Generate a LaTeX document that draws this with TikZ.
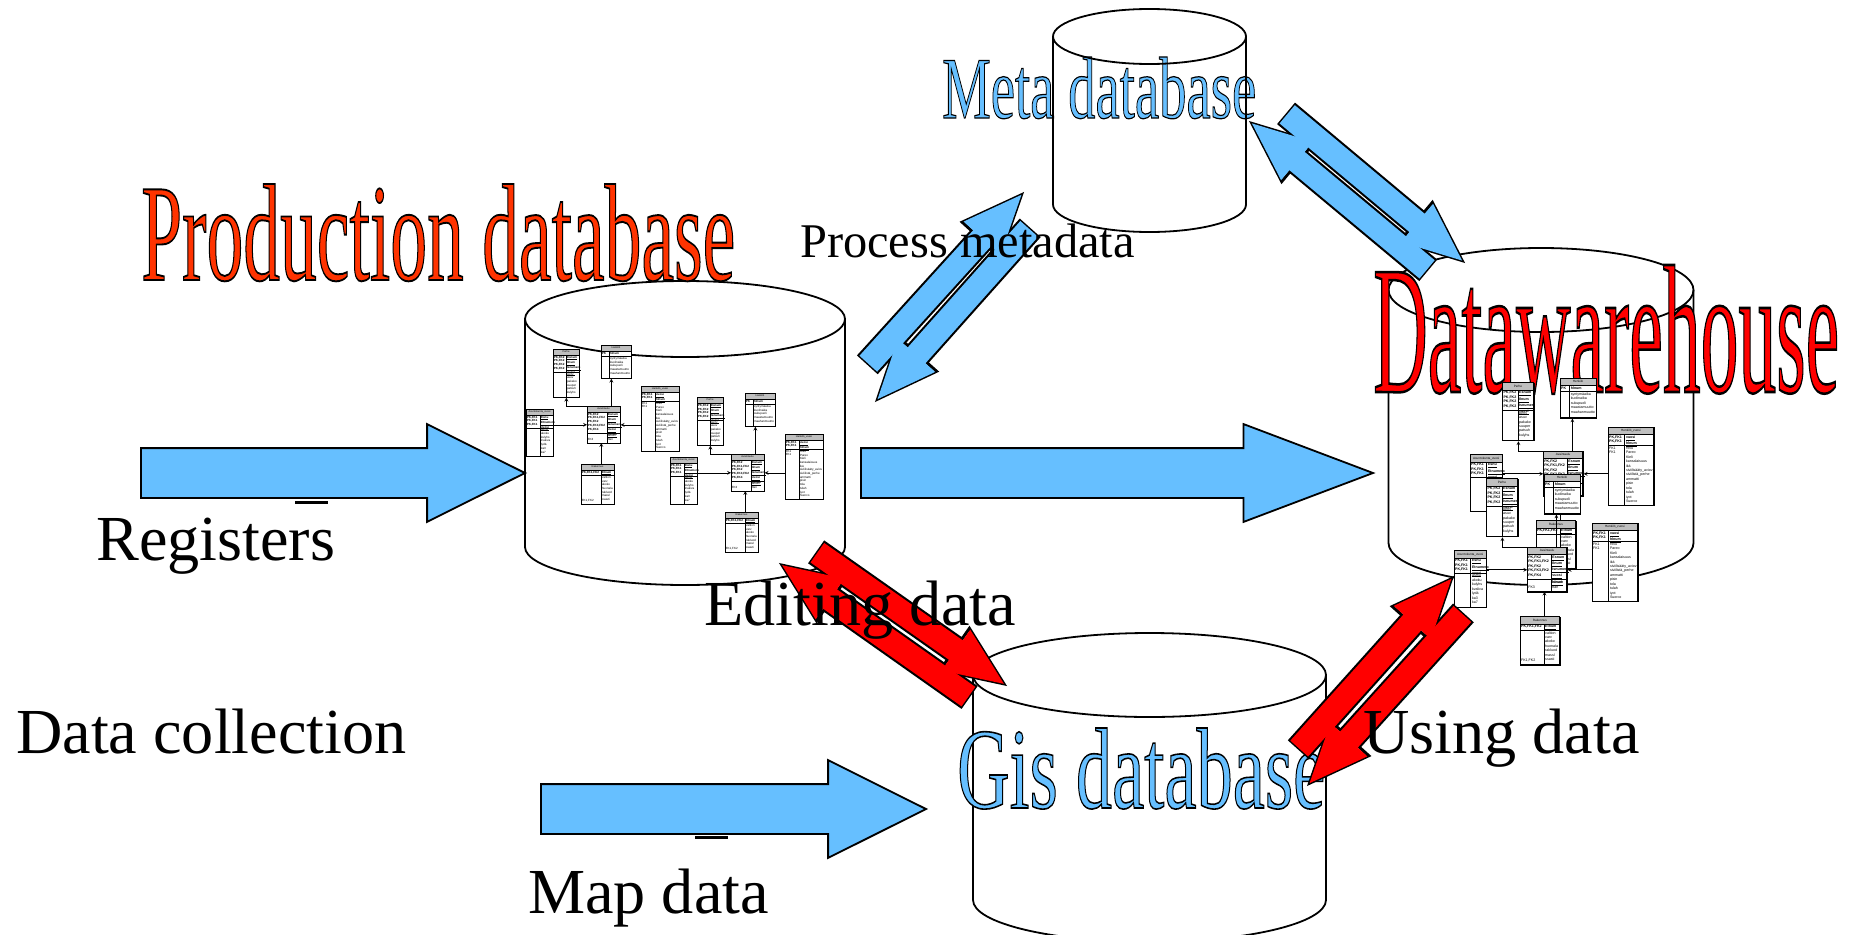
\documentclass[tikz,border=0pt]{standalone}
\usepackage{fontspec}
\setmainfont{Liberation Serif}
\newfontfamily\tablefont{Liberation Sans}
\usetikzlibrary{shapes.arrows,calc}

\definecolor{skyblue}{HTML}{66BFFF}
\definecolor{orangered}{HTML}{FF3300}

\tikzset{
    dbline/.style={line width=1.8pt},
    bigarrow/.style={single arrow, inner xsep=0pt, inner ysep=24pt, outer sep=0pt, anchor=tip, line width=1.8pt,
        single arrow head extend=24pt},
    pairarrow/.style={bigarrow, minimum height=228pt, inner ysep=11pt,
        single arrow tip angle=46, single arrow head extend=13pt},
    label/.style={inner sep=0pt, anchor=base west, font=\fontsize{64.2}{64.2}\selectfont},
    erbox/.style={draw, fill=white, rectangle, inner sep=0pt, anchor=north west, line width=0.7pt},
    erline/.style={line width=0.7pt},
    ertext/.style={inner sep=0pt, anchor=north west, align=left, font=\tablefont\fontsize{3}{3.7}\selectfont},
    erkey/.style={ertext, font=\tablefont\bfseries\fontsize{3}{3.7}\selectfont},
    ertitle/.style={inner sep=0pt, anchor=center, font=\tablefont\fontsize{2.6}{3}\selectfont}
}

% name, x middle, y of top ellipse, y of bottom ellipse, x radius, y radius
\newcommand{\dbdrum}[6]{
    \coordinate (#1) at (#2,#3);
    \draw[dbline] (#1) ellipse[x radius=#5, y radius=#6];
    \draw[dbline] (#2-#5,#3) -- (#2-#5,#4) arc[start angle=180, end angle=0, x radius=#5, y radius=#6] -- (#2+#5,#3);
}

% name, x, y, width, height, colour, text
\newcommand{\wordart}[7]{
    \node[inner sep=0pt, anchor=base west] (#1) at (#2,#3)
        {\resizebox{#4pt}{#5pt}{\fontsize{80}{80}\selectfont\color{#6}\special{pdf:code q 0 0 0 RG 2 Tr 1.1 w}#7\special{pdf:code Q}}};
}

% name, x, y, width, height, key row bottom, divider, title
\newcommand{\ertable}[8]{
    \node[erbox, minimum width=#4pt, minimum height=#5pt] (#1) at (#2,#3) {};
    \fill[black!25] (#2,#3) rectangle (#2+#4,#3+6);
    \draw[erline] (#2,#3) rectangle (#2+#4,#3+#5);
    \draw[erline] (#2,#3+6) -- (#2+#4,#3+6);
    \draw[erline] (#2,#3+#6) -- (#2+#4,#3+#6);
    \draw[erline] (#2+#7,#3+6) -- (#2+#7,#3+#5);
    \node[ertitle] (#1-title) at (#2+#4/2,#3+3) {#8};
}

% name, x, y, divider, key row bottom, keys, key names, other columns
\newcommand{\errows}[8]{
    \node[erkey] (#1-keys) at (#2+0.7,#3+7) {#6};
    \node[erkey] (#1-names) at (#2+#4+0.8,#3+7) {#7};
    \node[ertext] (#1-rows) at (#2+#4+0.8,#3+#5+1) {#8};
}

% prefix, x, y, scale
\newcommand{\schema}[4]{
    \begin{scope}[shift={(#2,#3)}, scale=#4, transform shape, name prefix=#1-]
        \ertable{perhe}{27}{4}{26}{48}{23}{13}{Perhe}
        \errows{perhe}{27}{4}{13}{23}{PK,FK2\\PK,FK2\\PK,FK2\\PK,FK2}{\underline{Esnum}\\\underline{Ilnum}\\\underline{Isnumero}\\\underline{vuosi}}{perty\\asuv\\pakako\\suuper\\patsuh\\kulyhs}
        \ertable{henkilo}{75}{0}{30}{33}{11}{8}{Henkilö}
        \errows{henkilo}{75}{0}{8}{11}{PK}{\underline{hlnum}}{syntymäaika\\kuolinaika\\sukupuoli\\maastamuutto\\maahanmuutto}
        \ertable{henkilovuosi}{115}{41}{38}{65}{15}{14}{Henkilö\_vuosi}
        \errows{henkilovuosi}{115}{41}{14}{15}{PK,FK1\\PK,FK1}{\underline{vuosi}\\\underline{hlnum}}{Rivu\\Pareo\\Kieli\\kansalaisuus\\ikä\\siviilisääty\_aviov\\siviilistä\_perhe\\ammatti\\pisin\\tola\\tulah\\iyot\\Suorco}
        \node[ertext] (henkilovuosi-fk) at (115.7,57) {FK1\\FK1};
        \ertable{asuntokunta}{0}{64}{27}{47}{19}{14}{Asuntokunta\_vuosi}
        \errows{asuntokunta}{0}{64}{14}{19}{PK,FK1\\PK,FK1\\PK,FK1}{\underline{Esnu}\\\underline{Etnumero}\\\underline{vuosi}}{asmu\\akoku\\kulyhs\\kvaliva\\lydä\\ka3\\ka7}
        \ertable{avaintaulu}{61}{61}{33}{37}{27}{20}{Avaintaulu}
        \errows{avaintaulu}{61}{61}{20}{27}{PK,FK2\\PK,FK1,FK2\\PK,FK2\\PK,FK3,FK2\\PK,FK4}{\underline{Esnum}\\\underline{Ilnum}\\\underline{Isnumero}\\\underline{vuosi}\\\underline{hlnum}}{laosnl\\ttan}
        \node[ertext] (avaintaulu-fk) at (61.7,93) {FK3};
        \ertable{rakennus}{55}{119}{33}{40}{11}{20}{Rakennus}
        \errows{rakennus}{55}{119}{20}{11}{PK,FK1,FK2}{\underline{Etnum}}{valtion\\varv\\akoko\\huonala\\rakluod\\massl\\ssasti}
        \node[ertext] (rakennus-fk) at (55.7,154) {FK1,FK2};

        \draw[erline, -stealth] (avaintaulu.north west) -| (perhe.south);
        \draw[erline, -stealth] ($(henkilo.south)+(-5,28)$) -- ($(henkilo.south)+(-5,0)$);
        \draw[erline, -stealth] (henkilovuosi.west |- avaintaulu.east) -- (avaintaulu.east);
        \draw[erline, -stealth] (asuntokunta.east |- avaintaulu.west) -- (avaintaulu.west);
        \draw[erline, -stealth] ($(rakennus.north)+(3.5,0)$) -- ($(rakennus.north)+(3.5,-21)$);
    \end{scope}
}

% name, colour, x1, y1, angle1, x2, y2, angle2
\newcommand{\arrowpair}[8]{
    \node[pairarrow, draw, line width=3pt, rotate=#5, xshift=-3.8pt] (#1-a) at (#3,#4) {};
    \node[pairarrow, draw, line width=3pt, rotate=#8, xshift=-3.8pt] (#1-b) at (#6,#7) {};
    \node[pairarrow, fill=#2, rotate=#5, xshift=-3.8pt] (#1-afill) at (#3,#4) {};
    \node[pairarrow, fill=#2, rotate=#8, xshift=-3.8pt] (#1-bfill) at (#6,#7) {};
}

\begin{document}
\begin{tikzpicture}[x=1pt, y=-1pt]
    \useasboundingbox (0,0) rectangle (1857,934);

    \dbdrum{proddb}{685}{319}{547}{160}{38}
    \dbdrum{dwdb}{1541}{290}{543}{152.5}{42}
    \dbdrum{gisdb}{1149.5}{675}{900}{176.5}{42}

    \wordart{prodtitle}{141}{280}{594}{96}{orangered}{Production database}
    \wordart{dwtitle}{1373}{392}{466}{127}{red}{Datawarehouse}
    \wordart{metatitle}{942}{118}{314}{61}{skyblue}{Meta database}
    \wordart{gistitle}{957}{808}{368}{80}{skyblue}{Gis database}

    \dbdrum{metadb}{1149.5}{36.5}{204.5}{96.5}{27.5}

    \schema{left1}{526}{345}{1}
    \schema{left2}{670}{393}{1}
    \schema{right1}{1470}{378}{1.2}
    \schema{right2}{1454}{474}{1.2}

    \node[bigarrow, draw, fill=skyblue, minimum height=384pt, single arrow tip angle=53.1] (regarrow) at (525,473) {};
    \node[bigarrow, draw, fill=skyblue, minimum height=512pt, single arrow tip angle=41.4] (dwarrow) at (1373,473) {};
    \node[bigarrow, draw, fill=skyblue, minimum height=385pt, single arrow tip angle=53.1] (maparrow) at (926,809) {};

    \arrowpair{process}{skyblue}{1024}{192}{47.8}{875}{402}{228.3}
    \arrowpair{meta}{skyblue}{1249}{121}{140.2}{1465}{263}{-39.9}
    \arrowpair{editing}{red}{779}{563}{144.8}{1007}{686}{-35.1}
    \arrowpair{using}{red}{1454}{576}{48.1}{1307}{786}{227.9}

    \draw[line width=3pt] (295,502) -- (328,502);
    \draw[line width=3pt] (695,837) -- (728,837);

    \node[label] (registers) at (96,560) {Registers};
    \node[label] (collection) at (16,753) {Data collection};
    \node[label] (mapdata) at (528,913) {Map data};
    \node[label] (editdata) at (704,625) {Editing data};
    \node[label] (usingdata) at (1363,753) {Using data};
    \node[label, font=\fontsize{48.4}{48.4}\selectfont] (processmeta) at (800,257) {Process metadata};
\end{tikzpicture}
\end{document}
